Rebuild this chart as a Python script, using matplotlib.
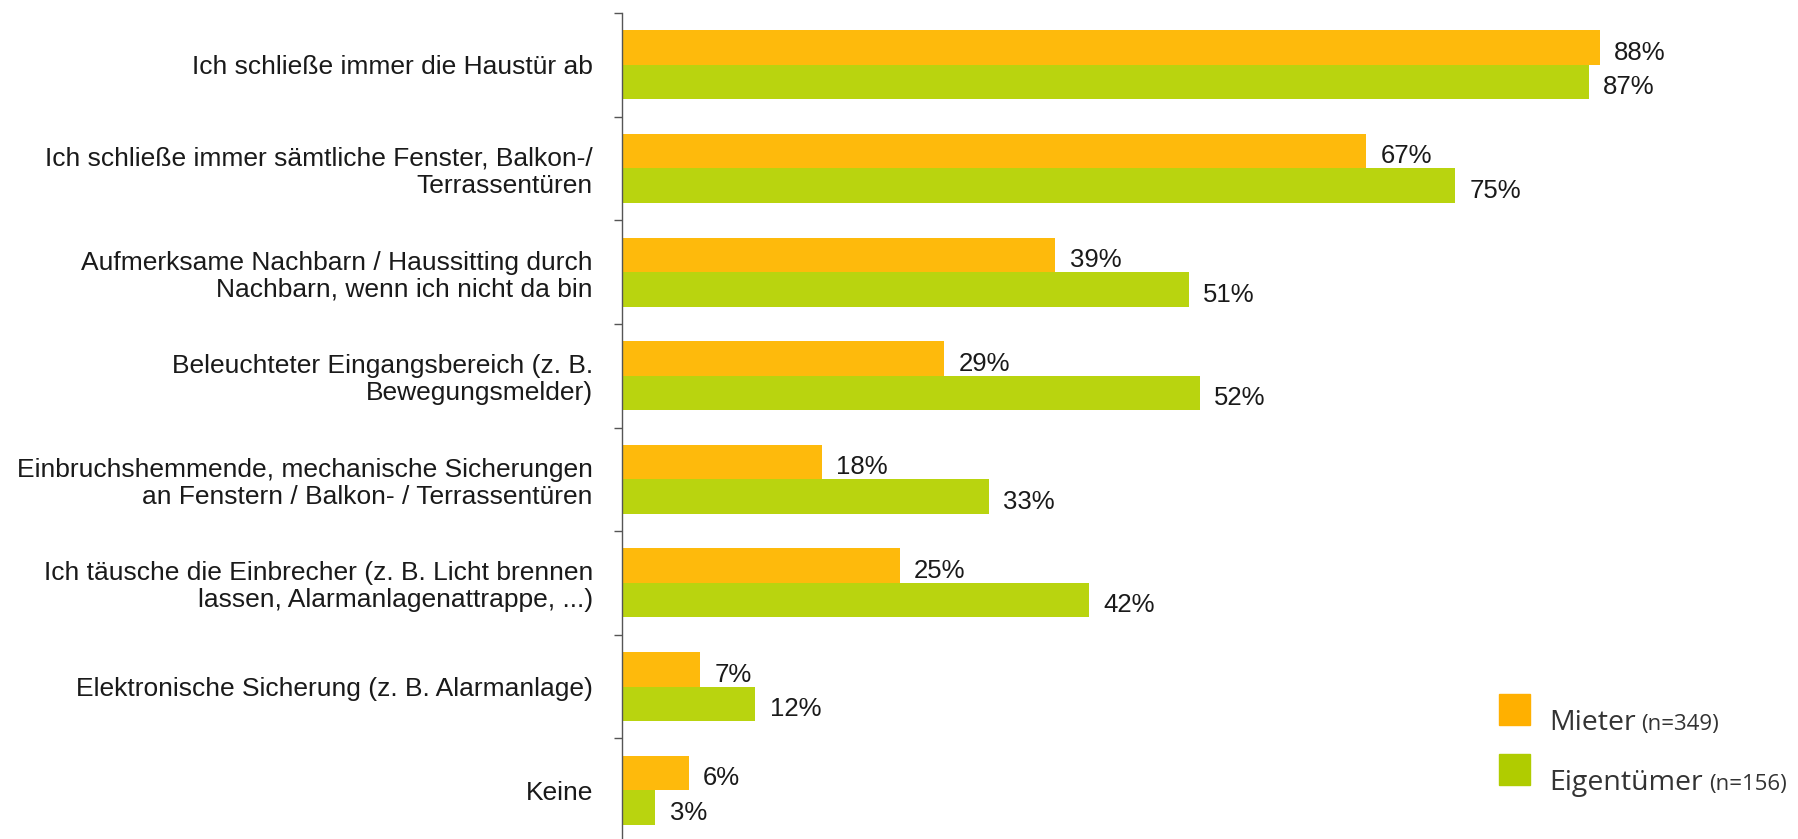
import matplotlib.pyplot as plt
import numpy as np
from matplotlib.patches import Rectangle

categories = [
    "Ich schließe immer die Haustür ab",
    "Ich schließe immer sämtliche Fenster, Balkon-/\nTerrassentüren",
    "Aufmerksame Nachbarn / Haussitting durch\nNachbarn, wenn ich nicht da bin",
    "Beleuchteter Eingangsbereich (z. B.\nBewegungsmelder)",
    "Einbruchshemmende, mechanische Sicherungen\nan Fenstern / Balkon- / Terrassentüren",
    "Ich täusche die Einbrecher (z. B. Licht brennen\nlassen, Alarmanlagenattrappe, ...)",
    "Elektronische Sicherung (z. B. Alarmanlage)",
    "Keine",
]
mieter = [88, 67, 39, 29, 18, 25, 7, 6]
eigentuemer = [87, 75, 51, 52, 33, 42, 12, 3]

orange = "#FEBA0C"
green = "#B9D40F"
txt = "#1a1a1a"

plt.rcParams['font.family'] = ['Liberation Sans', 'DejaVu Sans']

fig = plt.figure(figsize=(17.98, 8.39), dpi=100)
ax = fig.add_axes([622 / 1798, -0.0036, 1111 / 1798, 0.9881])

y = np.arange(len(categories))
h = 0.333
ax.barh(y - h / 2, mieter, height=h, color=orange)
ax.barh(y + h / 2, eigentuemer, height=h, color=green)

dy = 0.05
for i in range(len(categories)):
    ax.text(mieter[i] + 1.3, y[i] - h / 2 + dy, f"{mieter[i]}%", va='center', ha='left', fontsize=18.5, color=txt)
    ax.text(eigentuemer[i] + 1.3, y[i] + h / 2 + dy, f"{eigentuemer[i]}%", va='center', ha='left', fontsize=18.5, color=txt)

ax.set_xlim(0, 100)
ax.set_ylim(len(categories) - 0.5, -0.5)

for s in ['top', 'right', 'bottom']:
    ax.spines[s].set_visible(False)
ax.spines['left'].set_color('#555555')
ax.spines['left'].set_linewidth(1.0)
ax.set_xticks([])

ax.set_yticks(np.arange(len(categories) + 1) - 0.5)
ax.set_yticklabels([])
ax.tick_params(axis='y', which='major', length=6, width=1.0, color='#555555')
ax.set_yticks(y, minor=True)
labels = ax.set_yticklabels(categories, minor=True, fontsize=19, color=txt, ha='right')
for lb in labels:
    lb.set_linespacing(1.15)
ax.tick_params(axis='y', which='minor', length=0, pad=21)

# legend
for k, (col, name, n) in enumerate([("#FFB000", "Mieter", "(n=349)"), ("#B0CC00", "Eigentümer", "(n=156)")]):
    ytop = 694 + k * 60
    fig.add_artist(Rectangle((1499 / 1798, 1 - (ytop + 31) / 839), 31 / 1798, 31 / 839,
                             transform=fig.transFigure, color=col))
    t = fig.text(1549 / 1798, 1 - (ytop + 36) / 839, name, fontsize=20.5, color='#333333',
                 va='baseline', ha='left', family=['Open Sans', 'DejaVu Sans'])
    fig.canvas.draw()
    bb = t.get_window_extent()
    fig.text((bb.x1 + 6) / 1798, 1 - (ytop + 36) / 839, n, fontsize=16, color='#333333',
             va='baseline', ha='left', family=['Open Sans', 'DejaVu Sans'])

fig.savefig("out.png", dpi=100)
